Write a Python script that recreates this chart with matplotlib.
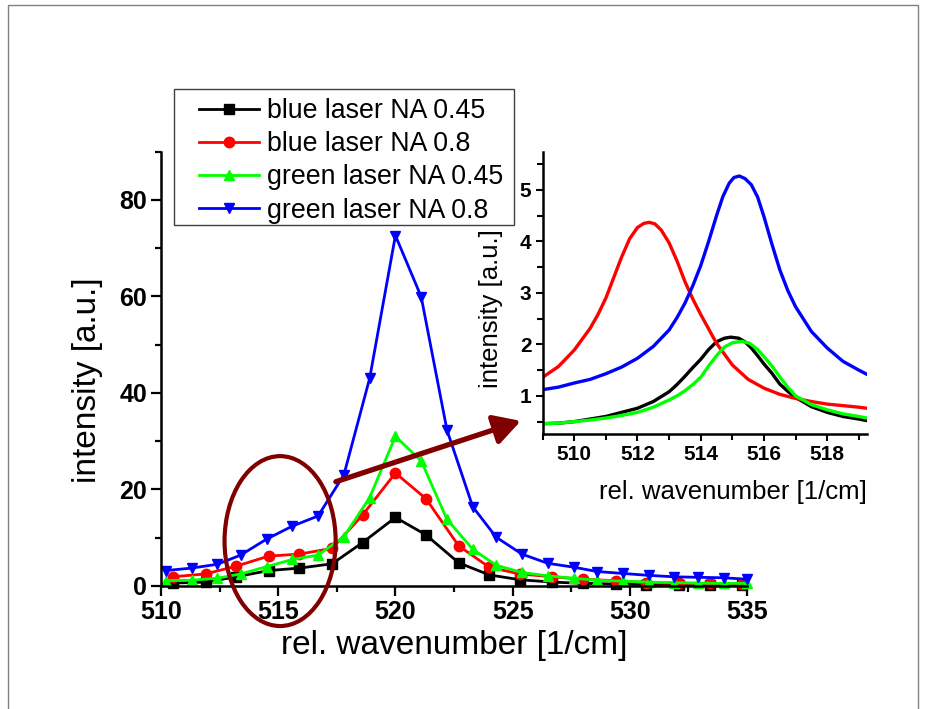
import matplotlib
matplotlib.use('Agg')
import matplotlib.pyplot as plt
from matplotlib.patches import Ellipse, Rectangle
from matplotlib.ticker import MultipleLocator

plt.rcParams['font.family'] = ['Liberation Sans', 'DejaVu Sans']

# main plot: measured spectra
blue_x = [510.5, 511.9, 513.2, 514.6, 515.9, 517.3, 518.6, 520.0, 521.3, 522.7,
          524.0, 525.3, 526.7, 528.0, 529.4, 530.7, 532.1, 533.4, 534.8]
green_x = [510.2, 511.3, 512.4, 513.4, 514.5, 515.6, 516.7, 517.8, 518.9, 520.0,
           521.1, 522.2, 523.3, 524.3, 525.4, 526.5, 527.6, 528.6, 529.7, 530.8,
           531.9, 532.9, 534.0, 535.0]

blue_na045 = [0.6, 0.8, 1.9, 3.2, 3.7, 4.6, 9.0, 14.2, 10.6, 4.8,
              2.3, 1.3, 0.8, 0.55, 0.4, 0.3, 0.3, 0.2, 0.2]
blue_na08 = [1.9, 2.5, 4.1, 6.2, 6.6, 7.8, 14.7, 23.4, 18.1, 8.3,
             3.9, 2.5, 1.9, 1.4, 1.1, 0.7, 0.55, 0.55, 0.4]
green_na045 = [1.1, 1.2, 1.6, 2.5, 4.0, 5.5, 6.4, 10.2, 18.3, 31.0,
               25.9, 13.8, 7.6, 4.3, 2.8, 2.1, 1.6, 1.2, 1.0, 0.8,
               0.7, 0.6, 0.55, 0.55]
green_na08 = [3.2, 3.7, 4.5, 6.4, 9.7, 12.4, 14.5, 23.0, 43.0, 72.6,
              59.9, 32.3, 16.4, 10.1, 6.6, 4.7, 3.9, 3.0, 2.6, 2.2,
              1.9, 1.8, 1.7, 1.4]

labels = ['blue laser NA 0.45', 'blue laser NA 0.8',
          'green laser NA 0.45', 'green laser NA 0.8']

# inset: fitted curves
ins_black_x = [509, 509.5, 510, 510.5, 511, 511.5, 512, 512.5, 513, 513.25, 513.5,
               513.75, 514, 514.25, 514.5, 514.75, 514.95, 515.2, 515.4, 515.6,
               515.8, 516, 516.25, 516.5, 516.75, 517, 517.5, 518, 518.5, 519, 519.25]
ins_black = [0.46, 0.47, 0.50, 0.55, 0.60, 0.68, 0.76, 0.89, 1.08, 1.22, 1.38,
             1.55, 1.71, 1.90, 2.05, 2.12, 2.14, 2.12, 2.05, 1.93,
             1.78, 1.62, 1.44, 1.23, 1.09, 0.97, 0.79, 0.68, 0.60, 0.55, 0.52]
ins_red_x = [509, 509.5, 510, 510.5, 510.75, 511, 511.25, 511.5, 511.75, 512, 512.2,
             512.37, 512.55, 512.75, 513, 513.25, 513.5, 513.75, 514, 514.5, 515,
             515.5, 516, 516.5, 517, 517.5, 518, 518.5, 519, 519.25]
ins_red = [1.36, 1.57, 1.89, 2.31, 2.58, 2.90, 3.30, 3.70, 4.05, 4.27, 4.35,
           4.37, 4.34, 4.22, 3.97, 3.62, 3.22, 2.88, 2.58, 2.02, 1.60,
           1.32, 1.15, 1.03, 0.95, 0.89, 0.84, 0.81, 0.78, 0.76]
ins_green_x = [509, 509.5, 510, 510.5, 511, 511.5, 512, 512.5, 513, 513.25, 513.5,
               513.75, 514, 514.25, 514.5, 514.75, 515, 515.3, 515.55, 515.8, 516,
               516.25, 516.5, 516.75, 517, 517.5, 518, 518.5, 519, 519.25]
ins_green = [0.46, 0.47, 0.50, 0.53, 0.57, 0.62, 0.68, 0.78, 0.92, 1.00, 1.10,
             1.22, 1.36, 1.58, 1.78, 1.95, 2.03, 2.06, 2.02, 1.90, 1.76,
             1.58, 1.37, 1.17, 1.00, 0.83, 0.73, 0.65, 0.60, 0.57]
ins_blue_x = [509, 509.5, 510, 510.5, 511, 511.5, 512, 512.5, 513, 513.25, 513.5,
              513.75, 514, 514.25, 514.5, 514.7, 514.9, 515.05, 515.22, 515.4, 515.6,
              515.8, 516, 516.25, 516.5, 516.75, 517, 517.5, 518, 518.5, 519, 519.25]
ins_blue = [1.12, 1.17, 1.25, 1.32, 1.43, 1.56, 1.73, 1.96, 2.28, 2.52, 2.80,
            3.14, 3.53, 4.00, 4.50, 4.87, 5.13, 5.24, 5.27, 5.22, 5.10,
            4.86, 4.48, 3.95, 3.45, 3.05, 2.73, 2.25, 1.93, 1.67, 1.50, 1.42]

colors = ['black', '#ff0000', '#00ff00', '#0000ff']
markers = ['s', 'o', '^', 'v']
dark_red = '#800000'
W, H = 926, 709

fig = plt.figure(figsize=(9.26, 7.09), dpi=100)
fig.patches.append(Rectangle((8 / W, -0.01), 910 / W, 1 - 5 / H + 0.01,
                             transform=fig.transFigure, fill=False,
                             ec='#808080', lw=1))

ax = fig.add_axes([0.1739, 0.1735, 0.6328, 0.6128])
series = [(blue_x, blue_na045), (blue_x, blue_na08),
          (green_x, green_na045), (green_x, green_na08)]
for (xs, ys), c, m, lab in zip(series, colors, markers, labels):
    ax.plot(xs, ys, color=c, marker=m, ms=7.5, lw=2, label=lab, clip_on=False)

ax.set_xlim(510, 535)
ax.set_ylim(0, 90)
ax.xaxis.set_major_locator(MultipleLocator(5))
ax.xaxis.set_minor_locator(MultipleLocator(2.5))
ax.yaxis.set_major_locator(MultipleLocator(20))
ax.yaxis.set_minor_locator(MultipleLocator(10))
for s in ['top', 'right']:
    ax.spines[s].set_visible(False)
for s in ['left', 'bottom']:
    ax.spines[s].set_linewidth(1.8)
ax.tick_params(which='major', direction='out', length=7, width=1.6, labelsize=18, pad=3)
ax.tick_params(which='minor', direction='out', length=4, width=1.6)
for t in ax.get_xticklabels() + ax.get_yticklabels():
    t.set_fontweight('bold')
ax.set_xlabel('rel. wavenumber [1/cm]', fontsize=24)
ax.set_ylabel('intensity [a.u.]', fontsize=24)
ax.xaxis.set_label_coords(0.5, -0.101)
ax.yaxis.set_label_coords(-0.099, 0.474)

# legend frame drawn separately, contents placed inside
ax.add_patch(Rectangle((174 / W, 1 - 225 / H), 340 / W, 136 / H,
                       transform=fig.transFigure, fc='white', ec='#404040',
                       lw=1, clip_on=False, zorder=5))
leg = ax.legend(loc='upper left', bbox_to_anchor=(199 / W, 1 - 98 / H),
                bbox_transform=fig.transFigure, fontsize=19.3, frameon=False,
                handlelength=2.25, handletextpad=0.27, labelspacing=0.27,
                borderpad=0, borderaxespad=0)
leg.set_zorder(6)

ax.add_patch(Ellipse((515.08, 9.3), 4.74, 35.2, fill=False, ec=dark_red,
                     lw=3, clip_on=False, zorder=4))
ax.annotate('', xy=(525.35, 34.2), xytext=(517.46, 21.6),
            arrowprops=dict(arrowstyle='-|>,head_length=0.8,head_width=0.45',
                            color=dark_red, lw=3.8, mutation_scale=20,
                            shrinkA=0, shrinkB=0),
            annotation_clip=False, zorder=4)

# inset
ax2 = fig.add_axes([0.586, 0.3879, 0.35, 0.398])
ax2.plot(ins_black_x, ins_black, color=colors[0], lw=2.4)
ax2.plot(ins_red_x, ins_red, color=colors[1], lw=2.4)
ax2.plot(ins_blue_x, ins_blue, color=colors[3], lw=2.4)
ax2.plot(ins_green_x, ins_green, color=colors[2], lw=2.4)
ax2.set_xlim(509, 519.25)
ax2.set_ylim(0.26, 5.74)
ax2.xaxis.set_major_locator(MultipleLocator(2))
ax2.xaxis.set_minor_locator(MultipleLocator(1))
ax2.yaxis.set_major_locator(MultipleLocator(1))
ax2.yaxis.set_minor_locator(MultipleLocator(0.5))
ax2.patch.set_alpha(0)
for s in ['top', 'right']:
    ax2.spines[s].set_visible(False)
for s in ['left', 'bottom']:
    ax2.spines[s].set_linewidth(1.8)
ax2.tick_params(which='major', direction='out', length=5, width=1.5, labelsize=15, pad=3)
ax2.tick_params(which='minor', direction='out', length=4, width=1.5)
for t in ax2.get_xticklabels() + ax2.get_yticklabels():
    t.set_fontweight('bold')
ax2.set_xlabel('rel. wavenumber [1/cm]', fontsize=18.5, ha='right')
ax2.set_ylabel('intensity [a.u.]', fontsize=18.5)
ax2.xaxis.set_label_coords(1.0, -0.163)
ax2.yaxis.set_label_coords(-0.1225, 0.443)

fig.savefig('out.png', dpi=100)
